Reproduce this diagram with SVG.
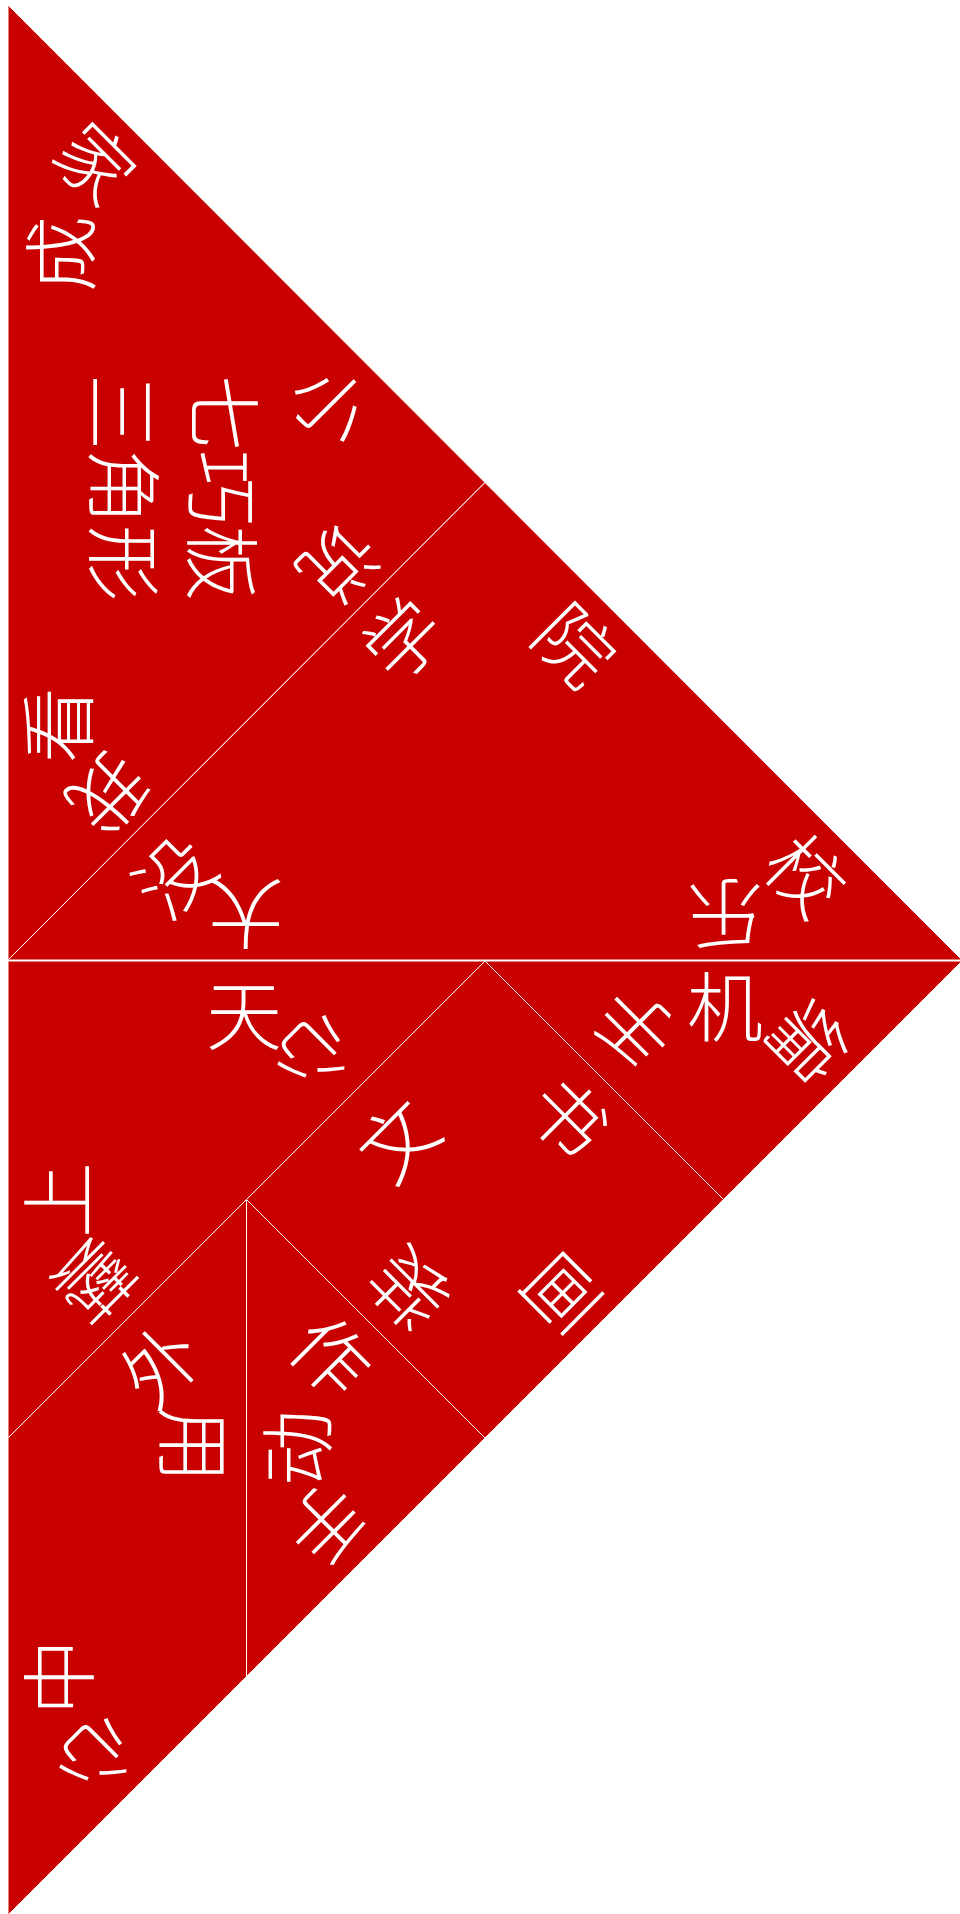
<svg xmlns="http://www.w3.org/2000/svg" width="960" height="1914" viewBox="0 0 960 1914">
<style>
.p{fill:#c80000;stroke:#ffffff;stroke-width:1}
.t{fill:#ffffff;font-family:"Noto Sans CJK SC","Noto Sans CJK TC",sans-serif;font-size:76px;font-weight:300;text-anchor:middle;dominant-baseline:central}
</style>
<rect width="960" height="1914" fill="#ffffff"/>
<g id="large-triangle-1">
<polygon class="p" points="8,5 485,482.5 8,960"/>
<text class="t" x="98" y="160" transform="rotate(45 98 160)">家</text>
<text class="t" x="57" y="254" transform="rotate(-90 57 254)">成</text>
<text class="t" x="334" y="401" transform="rotate(45 334 401)">小</text>
<text class="t" x="228" y="413" transform="rotate(90 228 413)">七</text>
<text class="t" x="226" y="488" transform="rotate(90 226 488)">巧</text>
<text class="t" x="226" y="563" transform="rotate(90 226 563)">板</text>
<text class="t" x="126" y="412" transform="rotate(90 126 412)">三</text>
<text class="t" x="128" y="487" transform="rotate(90 128 487)">角</text>
<text class="t" x="128" y="563" transform="rotate(90 128 563)">形</text>
<text class="t" x="342" y="567" transform="rotate(135 342 567)">说</text>
<text class="t" x="54" y="725" transform="rotate(-90 54 725)">看</text>
<text class="t" x="112" y="797" transform="rotate(135 112 797)">我</text>
</g>
<g id="large-triangle-2">
<polygon class="p" points="485,482.5 962,960 8,960"/>
<text class="t" x="400" y="636" transform="rotate(-45 400 636)">学</text>
<text class="t" x="171" y="873" transform="rotate(-45 171 873)">没</text>
<text class="t" x="246" y="918" transform="rotate(180 246 918)">大</text>
<text class="t" x="578" y="642" transform="rotate(45 578 642)">院</text>
<text class="t" x="809" y="872" transform="rotate(45 809 872)">校</text>
<text class="t" x="725" y="918" transform="rotate(180 725 918)">乐</text>
</g>
<g id="medium-triangle">
<polygon class="p" points="8,961 485,961 8,1438"/>
<text class="t" x="244" y="1011">天</text>
<text class="t" x="319" y="1057" transform="rotate(135 319 1057)">心</text>
<text class="t" x="54" y="1200" transform="rotate(-90 54 1200)">上</text>
<text class="t" x="98" y="1284" transform="rotate(135 98 1284)">藝</text>
</g>
<g id="small-triangle-1">
<polygon class="p" points="485,961 962,961 723.5,1199.5"/>
<text class="t" x="725" y="1003">机</text>
<text class="t" x="632" y="1030" transform="rotate(-135 632 1030)">手</text>
<text class="t" x="812" y="1045" transform="rotate(135 812 1045)">编</text>
</g>
<g id="square">
<polygon class="p" points="485,961 723.5,1199.5 485,1438 246.5,1199.5"/>
<text class="t" x="395" y="1137" transform="rotate(-45 395 1137)">文</text>
<text class="t" x="571" y="1114" transform="rotate(45 571 1114)">书</text>
<text class="t" x="406" y="1292" transform="rotate(-135 406 1292)">装</text>
<text class="t" x="566" y="1297" transform="rotate(135 566 1297)">画</text>
</g>
<g id="small-triangle-2">
<polygon class="p" points="246.5,1199.5 485,1438 246.5,1676.5"/>
<text class="t" x="334" y="1353" transform="rotate(45 334 1353)">作</text>
<text class="t" x="293" y="1448" transform="rotate(-90 293 1448)">动</text>
<text class="t" x="329" y="1527" transform="rotate(135 329 1527)">手</text>
</g>
<g id="parallelogram">
<polygon class="p" points="8,1438 246.5,1199.5 246.5,1676.5 8,1915"/>
<text class="t" x="157" y="1362" transform="rotate(-45 157 1362)">外</text>
<text class="t" x="198" y="1445" transform="rotate(90 198 1445)">用</text>
<text class="t" x="55" y="1677" transform="rotate(-90 55 1677)">中</text>
<text class="t" x="101" y="1760" transform="rotate(135 101 1760)">心</text>
</g>
<g id="connectors"></g>
</svg>
